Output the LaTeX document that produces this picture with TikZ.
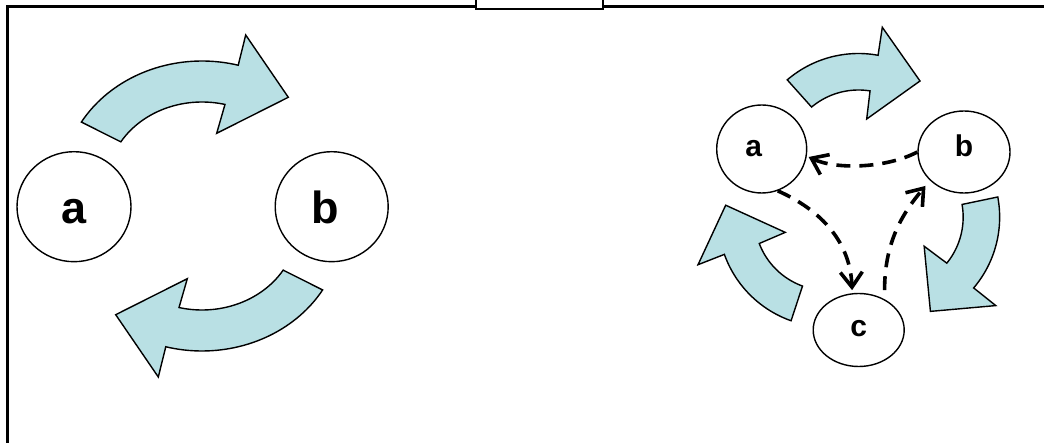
\documentclass[tikz,border=0pt]{standalone}
\usepackage{fontspec}
\setmainfont{Liberation Sans}
\usetikzlibrary{shapes.geometric,arrows.meta}
\definecolor{arrowfill}{RGB}{185,224,228}
\tikzset{
  bandarrow/.style={fill=arrowfill,draw=black,line width=1.4pt,line join=miter},
  bignode/.style={ellipse,draw=black,fill=white,line width=1.4pt,inner sep=0pt,
    minimum width=114pt,minimum height=110pt,font=\bfseries\fontsize{45}{45}\selectfont,
    text height=33pt,text depth=0pt},
  smallnode/.style={ellipse,draw=black,fill=white,line width=1.4pt,inner sep=0pt,
    font=\bfseries\fontsize{30}{30}\selectfont,text height=22pt},
  dashlink/.style={line width=3.6pt,dash pattern=on 14pt off 9pt,
    -{Straight Barb[length=15pt,width=22pt]}},
  leftarrow/.pic={
    \draw[bandarrow]
      plot[domain=-149.5:-75,samples=40,variable=\t] ({202+140*cos(\t)},{185+124*sin(\t)})
      -- (245.7,35) -- (288.3,97.3) -- (216.7,133.3)
      -- plot[domain=-76:-148.7,samples=40,variable=\t] ({202+95*cos(\t)},{185+83*sin(\t)})
      -- cycle;
  },
  rightarrow/.pic={
    \draw[bandarrow]
      plot[domain=-130.6:-79.7,samples=30,variable=\t] ({858.5+109.5*cos(\t)},{163+109.5*sin(\t)})
      -- (882.3,27.3) -- (920,81) -- (866.7,119)
      -- plot[domain=-80.9:-130,samples=30,variable=\t] ({858.5+73*cos(\t)},{163+73*sin(\t)})
      -- cycle;
  }
}
\begin{document}
\begin{tikzpicture}[x=1pt,y=-1pt]
\useasboundingbox (0,0) rectangle (1044,443);
% frame
\draw[line width=2.3pt] (7.5,450) -- (7.5,6.5) -- (1050,6.5);
\draw[line width=2pt,fill=white] (476,-6) rectangle (603,9.5);
% left curved arrows
\pic {leftarrow};
\pic[rotate around={180:(202,206)}] {leftarrow};
% right curved arrows
\pic {rightarrow};
\pic[rotate around={-120:(858.7,199.2)}] {rightarrow};
\pic[rotate around={-240:(858.7,199.2)}] {rightarrow};
% left nodes
\node[bignode] (a1) at (74,206.7) {a};
\node[bignode,minimum width=113pt] (b1) at (331.7,206.7) {b\hspace*{12pt}};
% right nodes
\node[smallnode,minimum width=90pt,minimum height=88pt,text depth=6.5pt] (a2) at (761.7,149) {a\hspace*{16pt}};
\node[smallnode,minimum width=92pt,minimum height=82pt,text depth=12pt] (b2) at (964,152) {b};
\node[smallnode,minimum width=91pt,minimum height=73pt,text depth=8.5pt] (c2) at (858.7,330) {c};
% dashed connectors
\draw[dashlink,shorten >=2pt] (b2.180) .. controls +(-30,16) and +(30,14) .. (a2.-9);
\draw[dashlink,shorten >=3pt] (a2.-69) .. controls +(45,20) and +(-2,-50) .. (c2.100);
\draw[dashlink,shorten <=9pt,shorten >=7pt] (c2.50) .. controls +(0,-60) and +(-25,30) .. (b2.220);
\end{tikzpicture}
\end{document}
